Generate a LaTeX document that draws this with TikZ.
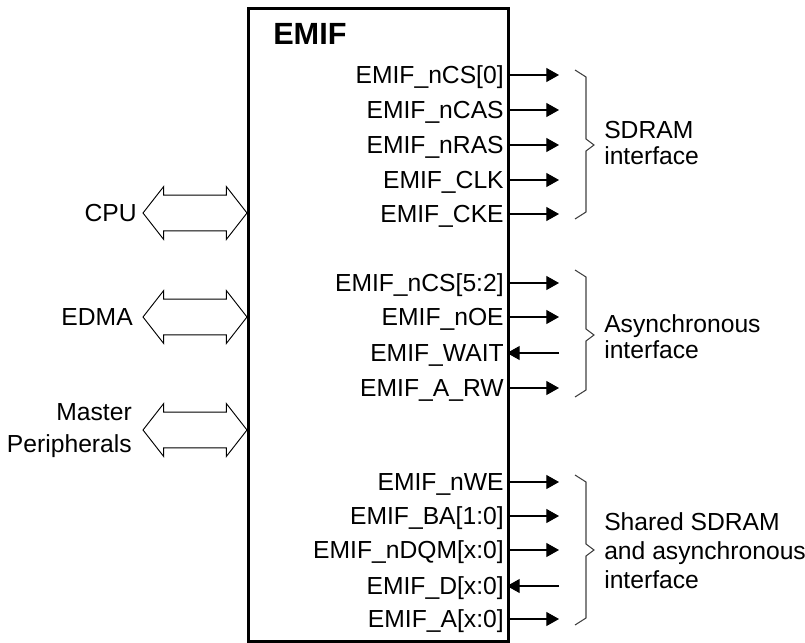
\documentclass[tikz,border=0pt]{standalone}
\usepackage{fontspec}
\setmainfont{Liberation Sans}
\usetikzlibrary{positioning,arrows.meta,shapes.arrows}

\begin{document}
\begin{tikzpicture}[
x=0.75pt, y=-0.75pt,
every node/.style={font=\fontsize{18.5}{22}\selectfont},
block/.style={rectangle, draw, line width=2pt, minimum width=195pt, minimum height=474.75pt, inner sep=0pt, anchor=north west},
sig/.style={anchor=east, inner sep=2.5pt, outer sep=0pt, text height=13.2pt, text depth=0pt},
side/.style={anchor=east, align=right, inner sep=0pt},
bus/.style={double arrow, draw, line width=0.7pt, double arrow tip angle=104, double arrow head extend=6.4pt, minimum height=78pt, inner xsep=0pt, inner ysep=13.1pt, text height=0pt, text depth=0pt},
arrow/.style={-{Triangle[length=9.5pt, width=10.5pt]}, line width=0.8pt},
grp/.style={draw=black!75, line width=0.8pt},
grplabel/.style={anchor=west, align=left, inner sep=0pt}
]
\useasboundingbox (0,0) rectangle (805,642);

% EMIF block
\node[block] (emif) at (247,7) {};
\node[anchor=base west, inner sep=0pt, font=\fontsize{23}{26}\selectfont\bfseries] (title) at (273,45) {EMIF};

% masters on the left
\node[side] (cpu) at (137,213) {CPU};
\node[side] (edma) at (133,317) {EDMA};
\node[side, font=\fontsize{18.5}{24.5}\selectfont] (master) at (132,430.5) {Master\\Peripherals};

\node[bus] (cpubus) at (195,213) {};
\node[bus] (edmabus) at (195,317) {};
\node[bus] (masterbus) at (195,430) {};

% SDRAM signals
\node[sig] (ncs0) at (507,75) {EMIF\_nCS[0]};
\node[sig] (ncas) at (507,110) {EMIF\_nCAS};
\node[sig] (nras) at (507,145) {EMIF\_nRAS};
\node[sig] (clk) at (507,180) {EMIF\_CLK};
\node[sig] (cke) at (507,214) {EMIF\_CKE};

\coordinate (ncs0end) at (559,75);
\coordinate (ncasend) at (559,110);
\coordinate (nrasend) at (559,145);
\coordinate (clkend) at (559,180);
\coordinate (ckeend) at (559,214);

\draw[arrow] (ncs0) -- (ncs0end);
\draw[arrow] (ncas) -- (ncasend);
\draw[arrow] (nras) -- (nrasend);
\draw[arrow] (clk) -- (clkend);
\draw[arrow] (cke) -- (ckeend);

% asynchronous signals
\node[sig] (ncs52) at (507,283) {EMIF\_nCS[5:2]};
\node[sig] (noe) at (507,317) {EMIF\_nOE};
\node[sig] (wait) at (507,353) {EMIF\_WAIT};
\node[sig] (arw) at (507,388) {EMIF\_A\_RW};

\coordinate (ncs52end) at (559,283);
\coordinate (noeend) at (559,317);
\coordinate (waitend) at (559,353);
\coordinate (arwend) at (559,388);

\draw[arrow] (ncs52) -- (ncs52end);
\draw[arrow] (noe) -- (noeend);
\draw[arrow] (waitend) -- (wait);
\draw[arrow] (arw) -- (arwend);

% shared signals
\node[sig] (nwe) at (507,482) {EMIF\_nWE};
\node[sig] (ba) at (507,516) {EMIF\_BA[1:0]};
\node[sig] (ndqm) at (507,550) {EMIF\_nDQM[x:0]};
\node[sig] (data) at (507,586) {EMIF\_D[x:0]};
\node[sig] (addr) at (507,619) {EMIF\_A[x:0]};

\coordinate (nweend) at (559,482);
\coordinate (baend) at (559,516);
\coordinate (ndqmend) at (559,550);
\coordinate (dataend) at (559,586);
\coordinate (addrend) at (559,619);

\draw[arrow] (nwe) -- (nweend);
\draw[arrow] (ba) -- (baend);
\draw[arrow] (ndqm) -- (ndqmend);
\draw[arrow] (dataend) -- (data);
\draw[arrow] (addr) -- (addrend);

% braces
\draw[grp] (575,70) -- (586,77) -- (586,139) -- (594,145) -- (586,151) -- (586,212) -- (575,219);
\draw[grp] (575,270) -- (586,277) -- (586,329) -- (594,335) -- (586,341) -- (586,390) -- (575,397);
\draw[grp] (575,475) -- (586,482) -- (586,544) -- (594,550) -- (586,556) -- (586,618) -- (575,625);

\node[grplabel, font=\fontsize{18.5}{19.5}\selectfont] (sdram) at (604,143) {SDRAM\\interface};
\node[grplabel, font=\fontsize{18.5}{19.5}\selectfont] (async) at (604,337) {Asynchronous\\interface};
\node[grplabel, font=\fontsize{18.5}{21.75}\selectfont] (shared) at (604,551) {Shared SDRAM\\and asynchronous\\interface};

\end{tikzpicture}
\end{document}
